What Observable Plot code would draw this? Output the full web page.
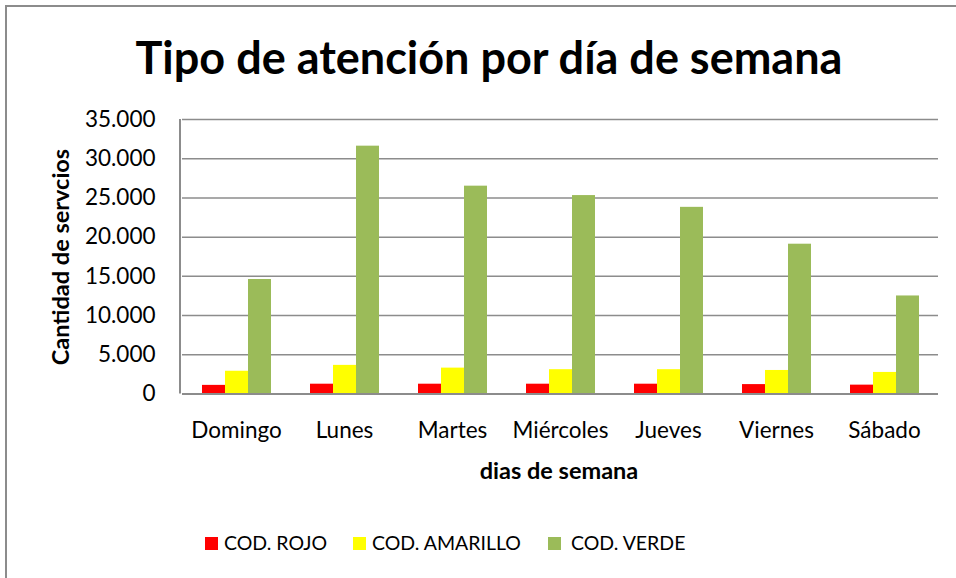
<!DOCTYPE html>
<html>
<head>
<meta charset="utf-8">
<script src="https://cdn.jsdelivr.net/npm/d3@7"></script>
<script src="https://cdn.jsdelivr.net/npm/@observablehq/plot@0.6"></script>
<style>
  html, body { margin: 0; padding: 0; background: #fff; }
  body { font-family: Lato, "Open Sans", sans-serif; }
  #wrap { position: relative; width: 956px; height: 578px; overflow: hidden; }
  #border { position: absolute; left: 5px; top: 5px; right: -10px; bottom: -10px; border-left: 2px solid #8c8c8c; border-top: 2px solid #8c8c8c; }
  #title { position: absolute; left: 0; width: 978px; top: 27px; text-align: center; font-size: 45px; font-weight: 700; line-height: 60px; color: #000; }
  #ylab { position: absolute; left: 60px; top: 257px; transform: translate(-50%, -50%) rotate(-90deg); font-size: 23.5px; font-weight: 700; white-space: nowrap; }
  #xlab { position: absolute; left: 0; width: 1118px; top: 455px; text-align: center; font-size: 23.5px; font-weight: 700; line-height: 30px; }
  #legend { position: absolute; top: 529px; left: 0; width: 956px; height: 28px; font-size: 19.5px; }
  .item { position: absolute; top: 0; line-height: 28px; white-space: nowrap; }
  .sw { position: absolute; top: 8px; width: 13px; height: 13px; }
  #chart { position: absolute; left: 0; top: 0; }
</style>
</head>
<body>
<div id="wrap">
  <div id="border"></div>
  <div id="chart"></div>
  <div id="title">Tipo de atención por día de semana</div>
  <div id="ylab">Cantidad de servcios</div>
  <div id="xlab">dias de semana</div>
  <div id="legend"></div>
</div>
<script>
const days = ["Domingo", "Lunes", "Martes", "Miércoles", "Jueves", "Viernes", "Sábado"];
const series = ["COD. ROJO", "COD. AMARILLO", "COD. VERDE"];
const colors = ["#ff0000", "#ffff00", "#9bbb59"];
const rojo = [1100, 1250, 1250, 1250, 1250, 1200, 1130];
const amarillo = [2900, 3650, 3300, 3100, 3100, 3000, 2750];
const verde = [14600, 31600, 26500, 25300, 23800, 19100, 12500];
const yTicks = [0, 5000, 10000, 15000, 20000, 25000, 30000, 35000];

const values = [rojo, amarillo, verde];
const data = [];
days.forEach((d, i) => series.forEach((s, j) => data.push({day: d, serie: s, value: values[j][i]})));

const fmt = d3.formatLocale({decimal: ",", thousands: ".", grouping: [3], currency: ["", ""]}).format(",");

const chart = Plot.plot({
  width: 956,
  height: 500,
  marginLeft: 180,
  marginRight: 16,
  marginTop: 119,
  marginBottom: 106.5,
  style: {fontFamily: "Lato, 'Open Sans', sans-serif", fontSize: "22.5px", background: "transparent", overflow: "visible"},
  fx: {domain: days, padding: 0, label: null, axis: "bottom", tickSize: 0, tickPadding: 28},
  x: {domain: series, paddingInner: 0, paddingOuter: 0.76, axis: null},
  y: {domain: [0, 35000], ticks: yTicks, tickFormat: fmt, tickSize: 0, tickPadding: 27, label: null},
  color: {domain: series, range: colors},
  marks: [
    Plot.ruleY(yTicks.slice(1), {stroke: "#8c8c8c", strokeWidth: 1.5}),
    Plot.barY(data, {fx: "day", x: "serie", y: "value", fill: "serie"}),
    Plot.ruleY([0], {stroke: "#8c8c8c", strokeWidth: 2})
  ]
});
document.getElementById("chart").appendChild(chart);

// left axis line using the chart's y scale
const ys = chart.scale("y");
d3.select(chart).append("line")
  .attr("x1", 180).attr("x2", 180)
  .attr("y1", ys.apply(35000)).attr("y2", ys.apply(0))
  .attr("stroke", "#8c8c8c").attr("stroke-width", 2);

// legend
const legendPos = [{sw: 205, tx: 224}, {sw: 353, tx: 372}, {sw: 548, tx: 571}];
const legend = document.getElementById("legend");
series.forEach((s, i) => {
  const sw = document.createElement("div");
  sw.className = "sw";
  sw.style.left = legendPos[i].sw + "px";
  sw.style.background = colors[i];
  legend.appendChild(sw);
  const t = document.createElement("div");
  t.className = "item";
  t.style.left = legendPos[i].tx + "px";
  t.textContent = s;
  legend.appendChild(t);
});
</script>
</body>
</html>
